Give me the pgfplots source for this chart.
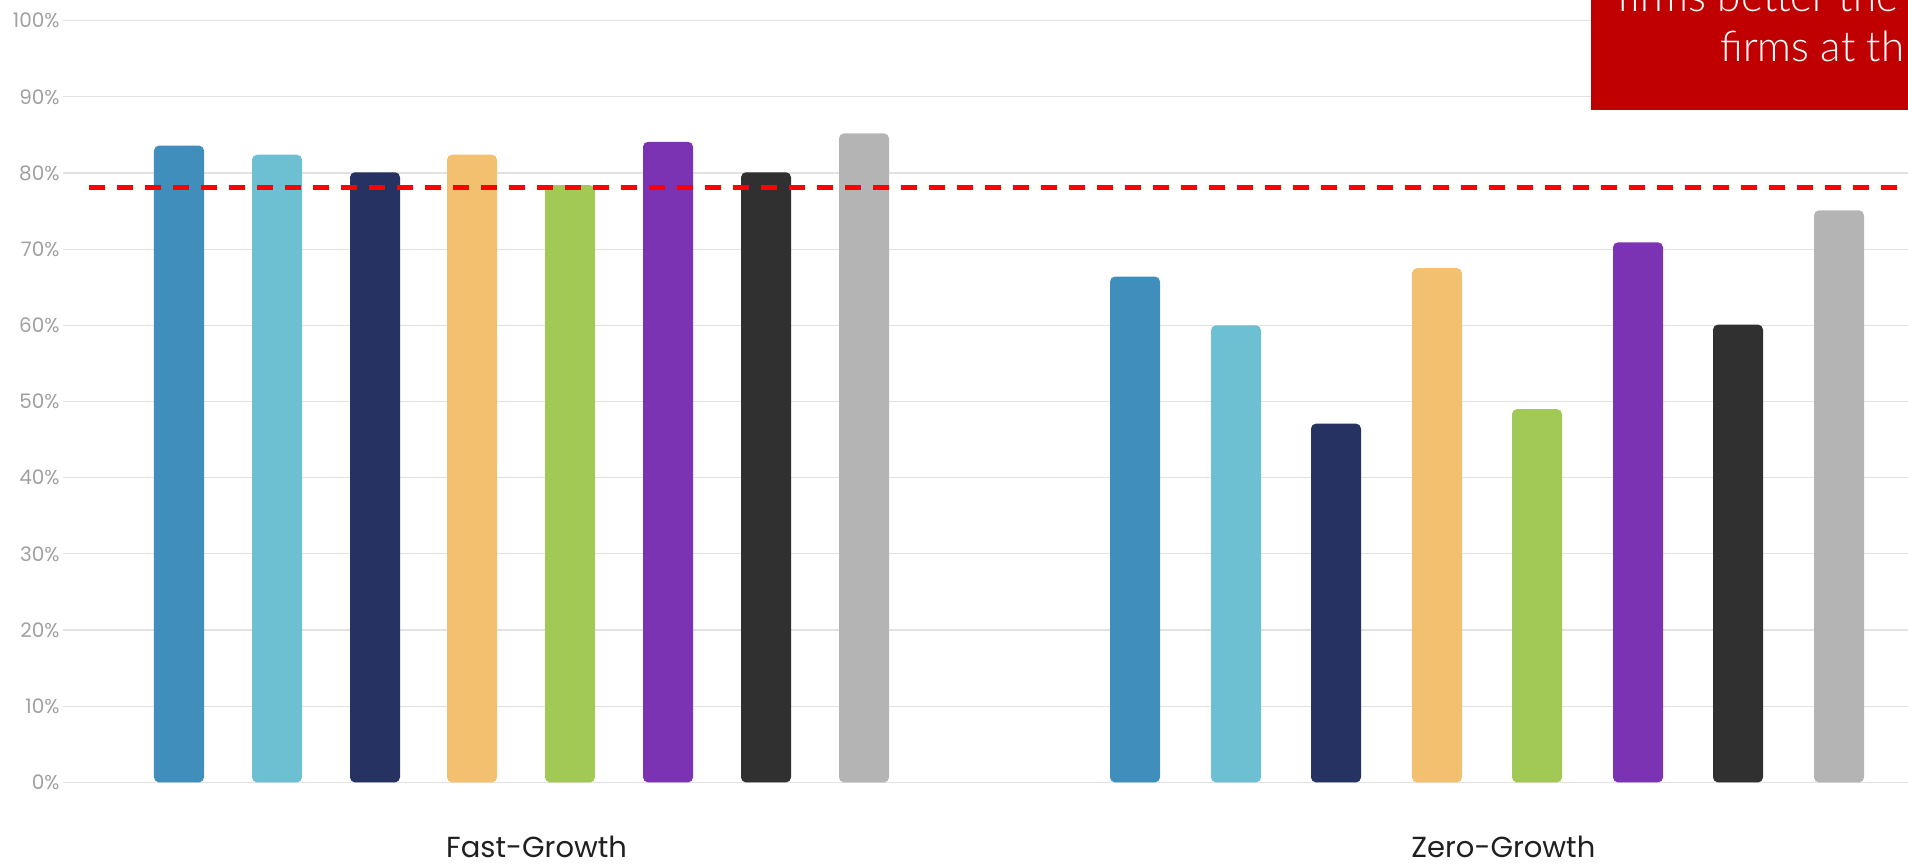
\documentclass[border=0pt]{standalone}
\usepackage{pgfplots}
\pgfplotsset{compat=1.18}
\usepackage{fontspec}
\setmainfont{Poppins}
\newfontfamily\boxfont{Lato Light}
\definecolor{c1}{HTML}{3F8EBC}
\definecolor{c2}{HTML}{6DC0D2}
\definecolor{c3}{HTML}{263262}
\definecolor{c4}{HTML}{F2C06E}
\definecolor{c5}{HTML}{A2C855}
\definecolor{c6}{HTML}{7B33B3}
\definecolor{c7}{HTML}{303030}
\definecolor{c8}{HTML}{B4B4B4}
\definecolor{boxred}{HTML}{C00000}
\definecolor{ticktxt}{HTML}{A0A0A0}
\definecolor{gridc}{HTML}{E2E2E2}
\begin{document}
\begin{tikzpicture}
\path[use as bounding box, clip] (0,0) rectangle (954pt,432.5pt);
\begin{axis}[
  at={(31.5pt,41.3pt)}, anchor=south west,
  scale only axis,
  x=0.5pt, y=3.8085pt,
  xmin=63, xmax=1908, ymin=0, ymax=100,
  axis line style={draw=none},
  tick style={draw=none},
  ymajorgrids,
  major grid style={draw=gridc, line width=0.6pt},
  ytick={0,10,...,100},
  yticklabels={0\%,10\%,20\%,30\%,40\%,50\%,60\%,70\%,80\%,90\%,100\%},
  yticklabel style={font=\fontsize{10}{12}\selectfont, text=ticktxt, anchor=east, inner sep=0pt, xshift=-1.5pt},
  xtick={536.6,1503.4},
  xticklabels={Fast-Growth,Zero-Growth},
  xticklabel style={font=\fontsize{14.5}{17}\selectfont, text=black!88, anchor=base, inner sep=0pt, yshift=-37.8pt},
  /pgf/number format/assume math mode=true,
  every axis plot/.append style={ybar, bar width=25pt, bar shift=0pt, draw=none, rounded corners=2.5pt},
]
\addplot[fill=c1] coordinates {(179,83.6) (1135,66.4)};
\addplot[fill=c2] coordinates {(277,82.4) (1236,60.0)};
\addplot[fill=c3] coordinates {(375,80.1) (1336,47.1)};
\addplot[fill=c4] coordinates {(472,82.4) (1437,67.5)};
\addplot[fill=c5] coordinates {(570,78.4) (1537,49.0)};
\addplot[fill=c6] coordinates {(668,84.1) (1638,70.9)};
\addplot[fill=c7] coordinates {(766,80.1) (1738,60.1)};
\addplot[fill=c8] coordinates {(864,85.2) (1839,75.1)};
\addplot[sharp plot, draw=red, line width=2.1pt, dash pattern=on 8pt off 6pt, rounded corners=0pt] coordinates {(89,78.1) (1908,78.1)};
\end{axis}
\fill[boxred] (795.5pt,377.5pt) rectangle (960pt,440pt);
\node[anchor=base west, inner sep=0pt, text=white, font=\boxfont\fontsize{21}{25}\selectfont] at (808.5pt,426.5pt) {firms better the};
\node[anchor=base west, inner sep=0pt, text=white, font=\boxfont\fontsize{21}{25}\selectfont] at (860pt,401.5pt) {firms at th};
\end{tikzpicture}
\end{document}
